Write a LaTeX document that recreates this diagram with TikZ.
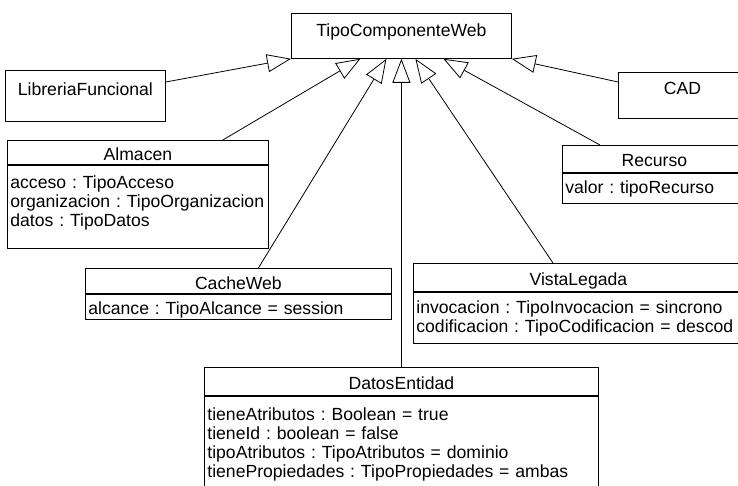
\documentclass[tikz,border=0pt]{standalone}
\usepackage{fontspec}
\setmainfont{Liberation Sans}
\usepackage{tikz}
\usetikzlibrary{arrows.meta}
\newcommand{\umlfont}{\fontsize{8.8}{9.5}\selectfont\frenchspacing\hyphenpenalty=10000 }
\tikzset{
  umlbox/.style={draw, inner sep=0pt, anchor=north west, font=\umlfont},
  umlattr/.style={umlbox, inner xsep=1.5pt, align=left},
  gen/.style={-{Triangle[open, length=12pt, width=9pt]}}
}

\begin{document}
\begin{tikzpicture}[x=0.5pt,y=-0.5pt]
      \useasboundingbox (0,0) rectangle (738,486);
      \clip (0,0) rectangle (738,486);

      \node[umlbox, minimum width=110pt, text height=11.5pt, text depth=11pt] (tcw) at (291,13) {TipoComponenteWeb};
      \node[umlbox, minimum width=80pt, text height=12.5pt, text depth=13pt] (lf) at (5,70) {LibreriaFuncional};
      \node[umlbox, minimum width=64pt, text height=11pt, text depth=12pt] (cad) at (618,72) {CAD};

      % Almacen
      \node[umlbox, minimum width=130.5pt, text height=10pt, text depth=2pt] (alm) at (7,140) {Almacen};
      \node[umlattr, text width=127.5pt, text height=11.5pt, text depth=30pt] (almattr) at (alm.south west)
        {acceso : TipoAcceso\\organizacion : TipoOrganizacion\\datos : TipoDatos};

      % Recurso
      \node[umlbox, minimum width=92pt, text height=10.5pt, text depth=3pt] (rec) at (562,145) {Recurso};
      \node[umlattr, text width=89pt, text height=10pt, text depth=5pt] (recattr) at (rec.south west)
        {valor : tipoRecurso};

      % CacheWeb
      \node[umlbox, minimum width=153pt, text height=10.5pt, text depth=2pt] (cw) at (85,268) {CacheWeb};
      \node[umlattr, text width=150pt, text height=10pt, text depth=2.5pt] (cwattr) at (cw.south west)
        {alcance : TipoAlcance = session};

      % VistaLegada
      \node[umlbox, minimum width=165pt, text height=11pt, text depth=3pt] (vl) at (413,263) {VistaLegada};
      \node[umlattr, text width=162pt, text height=10.5pt, text depth=15pt] (vlattr) at (vl.south west)
        {invocacion : TipoInvocacion = sincrono\\codificacion : TipoCodificacion = descod};

      % DatosEntidad
      \node[umlbox, minimum width=197pt, text height=11pt, text depth=3pt] (de) at (204,367) {DatosEntidad};
      \node[umlattr, text width=194pt, text height=12pt, text depth=40.5pt] (deattr) at (de.south west)
        {tieneAtributos : Boolean = true\\tieneId : boolean = false\\tipoAtributos : TipoAtributos = dominio\\tienePropiedades : TipoPropiedades = ambas};

      \draw[gen] ([yshift=-6pt]lf.north east) -- (tcw.south west);
      \draw[gen] ([xshift=-23pt]alm.north east) -- ([xshift=-20.5pt]tcw.south);
      \draw[gen] ([xshift=10pt]cw.north) -- ([xshift=-7.5pt]tcw.south);
      \draw[gen] (de.north) -- (tcw.south);
      \draw[gen] ([xshift=70pt]vl.north west) -- ([xshift=7pt]tcw.south);
      \draw[gen] ([xshift=19pt]rec.north west) -- ([xshift=21pt]tcw.south);
      \draw[gen] ([yshift=-5pt]cad.north west) -- (tcw.south east);
\end{tikzpicture}
\end{document}
